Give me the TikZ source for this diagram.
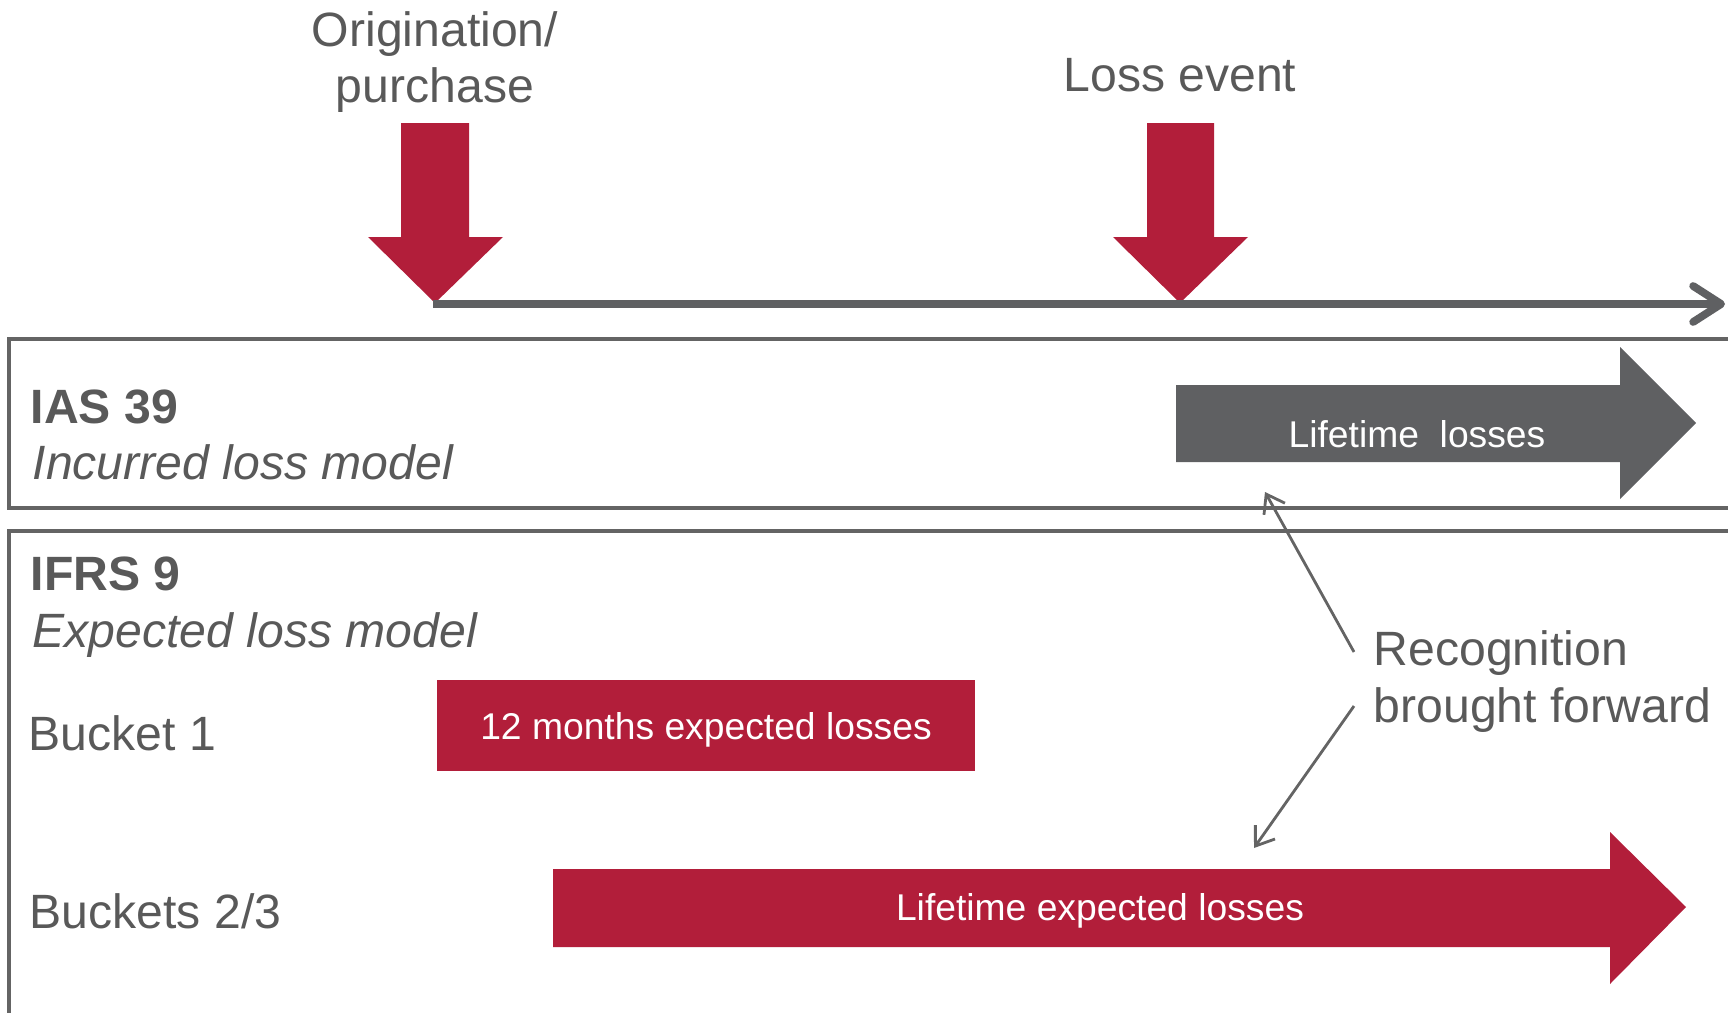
\documentclass[tikz,border=0pt]{standalone}
\usepackage{fontspec}
\setmainfont{Liberation Sans}
\usetikzlibrary{arrows.meta}
\definecolor{ifrsred}{RGB}{178,30,58}
\definecolor{darkgr}{RGB}{95,96,98}
\definecolor{txtgr}{RGB}{89,89,89}
\definecolor{linegr}{RGB}{100,100,100}

\begin{document}
\begin{tikzpicture}[every node/.style={font=\fontsize{13.7}{16.2}\selectfont, text=txtgr, inner sep=0pt},
  lbl/.style={anchor=base west}, onfill/.style={text=white, font=\fontsize{10.6}{12.5}\selectfont, anchor=base},
  frame/.style={linegr, line width=1pt}, pointer/.style={linegr, line width=0.8pt, -{Straight Barb[length=1.7mm,width=2.4mm]}}]
\useasboundingbox (0,0) rectangle (17.28,10.12);
\clip (0,0) rectangle (17.28,10.12);
\fill[ifrsred] (4.01,8.89) -- (4.69,8.89) -- (4.69,7.75) -- (5.03,7.75) -- (4.35,7.09) -- (3.68,7.75) -- (4.01,7.75) -- cycle;
\fill[ifrsred] (11.47,8.89) -- (12.14,8.89) -- (12.14,7.75) -- (12.48,7.75) -- (11.80,7.09) -- (11.13,7.75) -- (11.47,7.75) -- cycle;
\node[anchor=base] (orig) at (4.35,9.66) {Origination/};
\node[anchor=base] (purch) at (4.35,9.10) {purchase};
\node[anchor=base] (loss) at (11.80,9.21) {Loss event};
\coordinate (t0) at (4.33,7.08); \coordinate (t1) at (17.25,7.08);
\draw[darkgr, line width=2.2pt, -{Straight Barb[length=2.8mm,width=3.6mm,round]}] (t0) -- (t1);
\draw[frame] (0.09,6.73) rectangle (18,5.04);
\draw[frame] (18,4.81) -- (0.09,4.81) -- (0.09,-0.5);
\node[lbl, font=\fontsize{13.7}{16.2}\selectfont\bfseries] (ias) at (0.30,5.89) {IAS 39};
\node[lbl, font=\fontsize{13.7}{16.2}\selectfont\itshape] (inc) at (0.32,5.33) {Incurred loss model};
\node[lbl, font=\fontsize{13.7}{16.2}\selectfont\bfseries] (ifrs) at (0.30,4.22) {IFRS 9};
\node[lbl, font=\fontsize{13.7}{16.2}\selectfont\itshape] (exp) at (0.32,3.65) {Expected loss model};
\node[lbl] (b1) at (0.28,2.62) {Bucket 1};
\node[lbl] (b23) at (0.29,0.84) {Buckets 2/3};
\fill[darkgr] (11.76,6.27) -- (16.20,6.27) -- (16.20,6.65) -- (16.96,5.89) -- (16.20,5.13) -- (16.20,5.50) -- (11.76,5.50) -- cycle;
\node[onfill] (lt) at (14.17,5.65) {Lifetime~ losses};
\fill[ifrsred] (4.37,3.32) rectangle (9.75,2.41);
\node[onfill] (m12) at (7.06,2.73) {12 months expected losses};
\fill[ifrsred] (5.53,1.43) -- (16.10,1.43) -- (16.10,1.80) -- (16.86,1.05) -- (16.10,0.28) -- (16.10,0.65) -- (5.53,0.65) -- cycle;
\node[onfill] (lte) at (11.00,0.92) {Lifetime expected losses};
\node[lbl] (rec) at (13.73,3.47) {Recognition};
\node[lbl] (fwd) at (13.73,2.90) {brought forward};
\coordinate (r0) at (13.54,3.60); \coordinate (r1) at (12.65,5.20);
\coordinate (s0) at (13.54,3.06); \coordinate (s1) at (12.54,1.64);
\draw[pointer] (r0) -- (r1);
\draw[pointer] (s0) -- (s1);
\end{tikzpicture}
\end{document}
